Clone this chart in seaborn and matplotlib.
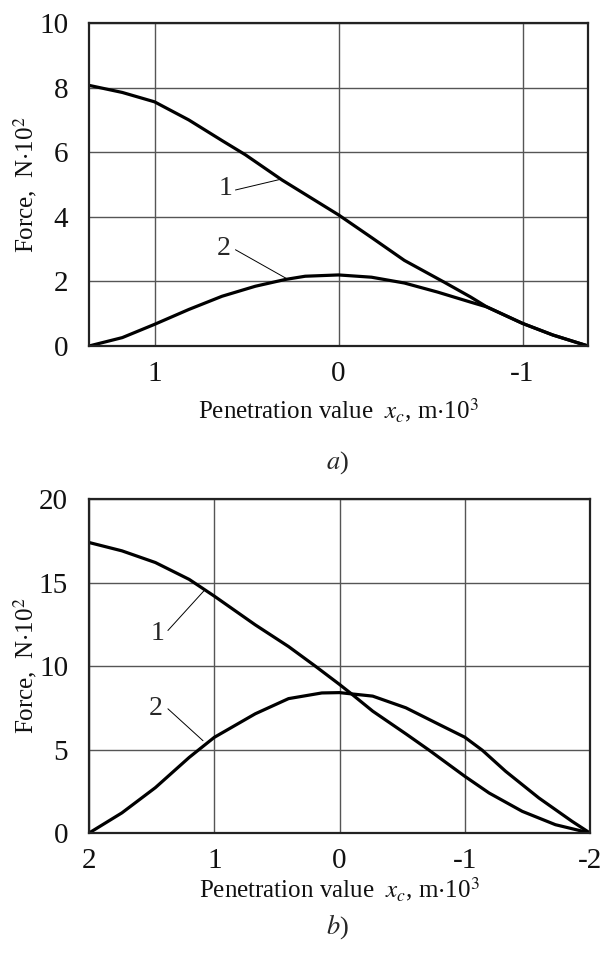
import numpy as np
import pandas as pd
import seaborn as sns
import matplotlib
import matplotlib.pyplot as plt

sns.set_style("white")
matplotlib.rcParams['font.family'] = ['Liberation Serif', 'DejaVu Serif']
matplotlib.rcParams['mathtext.fontset'] = 'stix'

# ---------------- data ----------------
# panel a)
xa_1 = [1.356, 1.175, 1.0, 0.814, 0.633, 0.506, 0.307, 0.0, -0.179, -0.358, -0.573,
        -0.717, -0.806, -1.0, -1.165, -1.356]
fa_1 = [8.07, 7.85, 7.56, 7.0, 6.36, 5.92, 5.14, 4.06, 3.36, 2.65, 1.98,
        1.52, 1.21, 0.70, 0.34, 0.0]
xa_2 = [1.356, 1.175, 1.0, 0.814, 0.633, 0.452, 0.289, 0.181, 0.0, -0.179, -0.358,
        -0.538, -0.717, -0.806, -1.0, -1.165, -1.356]
fa_2 = [0.0, 0.26, 0.67, 1.13, 1.54, 1.85, 2.06, 2.16, 2.2, 2.13, 1.95,
        1.67, 1.36, 1.21, 0.70, 0.34, 0.0]

# panel b)
xb_1 = [2.0, 1.737, 1.47, 1.2, 1.0, 0.673, 0.407, 0.194, 0.0, -0.093, -0.265, -0.53,
        -0.716, -1.0, -1.194, -1.459, -1.724, -2.0]
fb_1 = [17.4, 16.9, 16.2, 15.19, 14.19, 12.47, 11.17, 10.0, 8.9, 8.35, 7.3, 5.94,
        4.96, 3.4, 2.4, 1.3, 0.5, 0.0]
xb_2 = [2.0, 1.737, 1.47, 1.2, 1.0, 0.673, 0.407, 0.141, 0.0, -0.265, -0.53, -0.796,
        -1.0, -1.14, -1.326, -1.592, -1.857, -2.0]
fb_2 = [0.0, 1.21, 2.72, 4.53, 5.73, 7.14, 8.05, 8.39, 8.41, 8.2, 7.5, 6.5,
        5.74, 4.96, 3.7, 2.1, 0.7, 0.0]

ticks_a_x = [1, 0, -1]
ticks_a_y = [0, 2, 4, 6, 8, 10]
ticks_b_x = [2, 1, 0, -1, -2]
ticks_b_y = [0, 5, 10, 15, 20]

df_a = pd.concat([pd.DataFrame({"x": xa_1, "F": fa_1, "curve": "1"}),
                  pd.DataFrame({"x": xa_2, "F": fa_2, "curve": "2"})])
df_b = pd.concat([pd.DataFrame({"x": xb_1, "F": fb_1, "curve": "1"}),
                  pd.DataFrame({"x": xb_2, "F": fb_2, "curve": "2"})])

xlabel = r"Penetration value  $x_c$, m$\cdot$10$^3$"
ylabel = r"Force,  N$\cdot$10$^2$"

fig = plt.figure(figsize=(6.01, 9.55), dpi=100)
ax1 = fig.add_axes([0.1481, 0.6377, 0.8303, 0.3382])
ax2 = fig.add_axes([0.1481, 0.1277, 0.8336, 0.3497])


def style_axes(ax, xt, yt, xlim, ylim, xlab_y):
    ax.set_xlim(*xlim)
    ax.set_ylim(*ylim)
    ax.set_xticks(xt)
    ax.set_yticks(yt)
    ax.set_xticklabels([str(t) for t in xt])
    ax.set_yticklabels([str(t) for t in yt])
    ax.grid(True, color="#555555", linewidth=1.0)
    ax.set_axisbelow(True)
    for s in ax.spines.values():
        s.set_color("#222222")
        s.set_linewidth(1.6)
    ax.tick_params(length=0, labelsize=21, colors="#111111")
    ax.tick_params(axis="y", pad=15)
    ax.tick_params(axis="x", pad=11)
    ax.set_xlabel(xlabel, fontsize=18, color="#111111")
    ax.set_ylabel(ylabel, fontsize=18, color="#111111")
    ax.xaxis.set_label_coords(0.5, xlab_y)
    ax.yaxis.set_label_coords(-0.1, 0.5)
    leg = ax.get_legend()
    if leg is not None:
        leg.remove()


#plot a (TOP)
sns.lineplot(data=df_a, x="x", y="F", units="curve", estimator=None, sort=False,
             color="black", linewidth=2.3, ax=ax1)
style_axes(ax1, ticks_a_x, ticks_a_y, (1.356, -1.356), (0, 10), -0.155)
ax1.text(0.615, 4.88, "1", fontsize=20, ha="center", va="center")
ax1.plot([0.56, 0.316], [4.83, 5.16], color="black", linewidth=0.7)
ax1.text(0.624, 3.03, "2", fontsize=20, ha="center", va="center")
ax1.plot([0.56, 0.28], [2.98, 2.08], color="black", linewidth=0.7)

#plot b (BOTTOM)
sns.lineplot(data=df_b, x="x", y="F", units="curve", estimator=None, sort=False,
             color="black", linewidth=2.3, ax=ax2)
style_axes(ax2, ticks_b_x, ticks_b_y, (2, -2), (0, 20), -0.125)
ax2.text(1.452, 11.97, "1", fontsize=20, ha="center", va="center")
ax2.plot([1.37, 1.077], [12.13, 14.55], color="black", linewidth=0.7)
ax2.text(1.47, 7.44, "2", fontsize=20, ha="center", va="center")
ax2.plot([1.37, 1.09], [7.44, 5.53], color="black", linewidth=0.7)

fig.text(0.562, 1 - 463 / 955, r"$a$)", fontsize=19, ha="center", va="center")
fig.text(0.562, 1 - 927 / 955, r"$b$)", fontsize=19, ha="center", va="center")

plt.savefig("out.png", dpi=100)
